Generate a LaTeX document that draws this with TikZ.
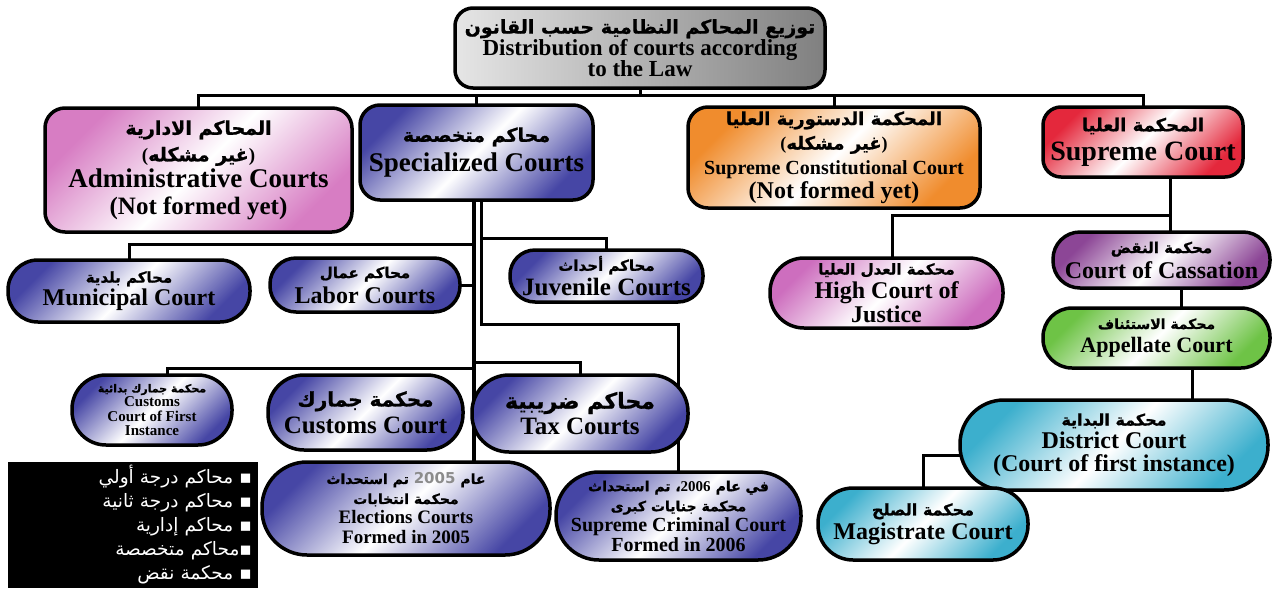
\documentclass[tikz,border=0pt]{standalone}
\usepackage{fontspec}
\setmainfont{Liberation Serif}
\newfontfamily\arb[Script=Arabic,FakeBold=0.9]{DejaVu Sans}
\newfontfamily\arr[Script=Arabic]{DejaVu Sans}
\TeXXeTstate=1
\usetikzlibrary{calc}
\newcommand{\AR}[1]{{\arb\beginR #1\endR}}
\newcommand{\ARR}[1]{{\arr\beginR #1\endR}}
\newcommand{\fsz}[2]{\fontsize{#1}{#2}\selectfont}
\definecolor{cpink}{RGB}{215,125,195}
\definecolor{cblue}{RGB}{70,70,165}
\definecolor{corange}{RGB}{240,140,45}
\definecolor{cred}{RGB}{228,40,60}
\definecolor{cpurple}{RGB}{140,70,150}
\definecolor{chigh}{RGB}{205,110,190}
\definecolor{cgreen}{RGB}{110,195,70}
\definecolor{ccyan}{RGB}{60,175,205}
\pgfdeclarelayer{bg}
\pgfsetlayers{bg,main}
\begin{document}
\begin{tikzpicture}[x=1pt,y=-1pt,
  box/.style={draw, line width=3.5pt, rectangle, rounded corners=#1, inner sep=0pt, align=center},
  pill/.style={draw, line width=3.5pt, rectangle, rounded corners=#1, inner sep=0pt, align=center},
  sh/.style={shade, top color=#1, bottom color=#1, middle color=white, shading angle=45},
  wire/.style={line width=3pt, line cap=rect}]
\useasboundingbox (0,0) rectangle (1272,590);

% top
\node[box=18pt, minimum width=370pt, minimum height=80pt, left color=black!10, middle color=white, right color=black!50,
  font=\bfseries\fsz{23}{21.5}] (top) at (640,48)
  {\fsz{19}{21.5}\AR{توزيع المحاكم النظامية حسب القانون}\\ Distribution of courts according\\to the Law};

% row 1
\node[box=20pt, sh=cpink, minimum width=307pt, minimum height=124pt, font=\bfseries\fsz{27}{26.5}] (admin) at (198.5,170)
  {\fsz{19}{26.5}\AR{المحاكم الادارية}\\ \fsz{19}{26.5}(\AR{غير مشكله})\\ Administrative Courts\\ \fsz{25}{26.5}(Not formed yet)};
\node[box=20pt, sh=cblue, minimum width=233pt, minimum height=95pt, font=\bfseries\fsz{27}{30}] (spec) at (476.5,152.5)
  {\fsz{19}{30}\AR{محاكم متخصصة}\\ Specialized Courts};
\node[box=20pt, sh=corange, minimum width=292pt, minimum height=101pt, font=\bfseries\fsz{20}{24.5}] (const) at (834,157.5)
  {\fsz{18}{24.5}\AR{المحكمة الدستورية العليا}\\ \fsz{18}{24.5}(\AR{غير مشكله})\\ Supreme Constitutional Court\\ \fsz{24}{24.5}(Not formed yet)};
\node[box=18pt, sh=cred, minimum width=200pt, minimum height=70pt, font=\bfseries\fsz{28}{29}] (supreme) at (1143,142)
  {\fsz{18}{29}\AR{المحكمة العليا}\\ Supreme Court};

% row 2
\node[pill=30pt, sh=cblue, minimum width=242pt, minimum height=62pt, font=\bfseries\fsz{24}{23}] (municipal) at (129,291)
  {\fsz{15}{23}\AR{محاكم بلدية}\\ Municipal Court};
\node[pill=26pt, sh=cblue, minimum width=190pt, minimum height=54pt, font=\bfseries\fsz{24}{25}] (labor) at (365,285)
  {\fsz{15}{25}\AR{محاكم عمال}\\ Labor Courts};
\node[pill=25pt, sh=cblue, minimum width=193pt, minimum height=52pt, font=\bfseries\fsz{25}{25}] (juvenile) at (606.5,276)
  {\fsz{15}{25}\AR{محاكم أحداث}\\ Juvenile Courts};
\node[pill=34pt, sh=chigh, minimum width=233pt, minimum height=70pt, font=\bfseries\fsz{24}{24}] (high) at (886.5,293)
  {\fsz{15}{24}\AR{محكمة العدل العليا}\\ High Court of\\Justice};
\node[pill=27pt, sh=cpurple, minimum width=217pt, minimum height=56pt, font=\bfseries\fsz{24}{25}] (cassation) at (1161.5,260)
  {\fsz{15}{25}\AR{محكمة النقض}\\ Court of Cassation};
\node[pill=29pt, sh=cgreen, minimum width=227pt, minimum height=60pt, font=\bfseries\fsz{22}{24}] (appellate) at (1156.5,338)
  {\fsz{14}{24}\AR{محكمة الاستئناف}\\ Appellate Court};

% row 3
\node[pill=34pt, sh=cblue, minimum width=160pt, minimum height=70pt, font=\bfseries\fsz{15}{14.5}] (customs1) at (152,410)
  {\fsz{11}{14.5}\AR{محكمة جمارك بدائية}\\ Customs\\Court of First\\Instance};
\node[pill=36pt, sh=cblue, minimum width=195pt, minimum height=75pt, font=\bfseries\fsz{25}{27}] (customs) at (365.5,412.5)
  {\fsz{20}{27}\AR{محكمة جمارك}\\ Customs Court};
\node[pill=37pt, sh=cblue, minimum width=216pt, minimum height=77pt, font=\bfseries\fsz{25}{26}] (tax) at (580,413.5)
  {\fsz{22}{26}\AR{محاكم ضريبية}\\ Tax Courts};
\node[pill=44pt, sh=ccyan, minimum width=308pt, minimum height=90pt, font=\bfseries\fsz{24}{23}] (district) at (1114,445)
  {\fsz{16}{23}\AR{محكمة البداية}\\ District Court\\(Court of first instance)};

% row 4
\node[fill=black, minimum width=250pt, minimum height=126pt, inner sep=0pt, text=white, text width=238pt, align=right,
  font=\fsz{18.5}{24}] (legend) at (133,525)
  {\ARR{▪ محاكم درجة أولي}\\ \ARR{▪ محاكم درجة ثانية}\\ \ARR{▪ محاكم إدارية}\\ \ARR{▪محاكم متخصصة}\\ \ARR{▪ محكمة نقض}};
\node[pill=45pt, sh=cblue, minimum width=288pt, minimum height=93pt, font=\bfseries\fsz{19}{20}] (elections) at (406,508.5)
  {\fsz{14}{20}\AR{عام \beginL{\arr\color{black!45}\fsz{15}{20}2005}\endL{} تم استحداث}\\ \fsz{14}{20}\AR{محكمة انتخابات}\\ Elections Courts\\Formed in 2005};
\node[pill=43pt, sh=cblue, minimum width=245pt, minimum height=88pt, font=\bfseries\fsz{20}{20}] (supcrim) at (678.5,516)
  {\fsz{14}{20}\AR{في عام \beginL{\rmfamily\bfseries\fsz{15}{20}2006}\endL، تم استحداث}\\ \fsz{14}{20}\AR{محكمة جنايات كبرى}\\ Supreme Criminal Court\\Formed in 2006};
\node[pill=35pt, sh=ccyan, minimum width=210pt, minimum height=72pt, font=\bfseries\fsz{24}{24}] (magistrate) at (923,524)
  {\fsz{16}{24}\AR{محكمة الصلح}\\ Magistrate Court};

% connectors
\begin{pgfonlayer}{bg}
\coordinate (bus) at (640,95);
\draw[wire] (top.south) -- (bus);
\draw[wire] (admin.north) |- (bus) -| (supreme.north);
\draw[wire] (spec.north) -- (spec.north |- bus);
\draw[wire] (const.north) -- (const.north |- bus);
% specialized trunk
\coordinate (tr) at (474,200);
\draw[wire, line width=4pt] (tr) -- (tr |- elections.north);
\draw[wire] ([xshift=5pt]spec.south) -- ++(0,123) -| (supcrim.north);
\coordinate (jv) at (481,238);
\draw[wire] (jv) -| (juvenile.north);
\coordinate (mu) at (474,244);
\draw[wire] (mu) -| (municipal.north);
\draw[wire] (labor.east) -- (labor.east -| tr);
\coordinate (tx) at (474,362);
\draw[wire] (tx) -| (tax.north);
\coordinate (cf) at (474,368);
\draw[wire] (cf) -| ([xshift=15pt]customs1.north);
% right side
\draw[wire] ([xshift=9pt]cassation.north) -- ([xshift=9pt]cassation.north |- supreme.south);
\coordinate (hj) at (1170,215);
\draw[wire] (hj) -| ([xshift=6pt]high.north);
\draw[wire] ([xshift=20pt]cassation.south) -- ([xshift=20pt]cassation.south |- appellate.north);
\draw[wire] ([xshift=36pt]appellate.south) -- ([xshift=36pt]appellate.south |- district.north);
\draw[wire] ([yshift=-10pt]district.west) -| (magistrate.north);
\end{pgfonlayer}
\end{tikzpicture}
\end{document}
